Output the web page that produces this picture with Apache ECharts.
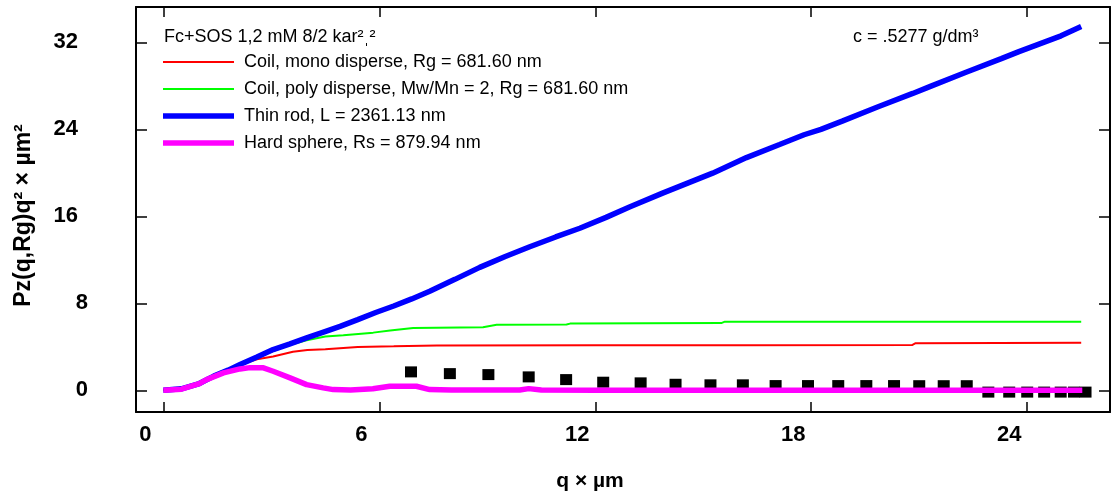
<!DOCTYPE html>
<html>
<head>
<meta charset="utf-8">
<script src="https://cdn.jsdelivr.net/npm/echarts@6/dist/echarts.min.js"></script>
<style>
  html, body { margin: 0; padding: 0; background: #ffffff; }
  #chart { width: 1116px; height: 497px; }
</style>
</head>
<body>
<div id="chart"></div>
<script>
// Tick values
const xTicks = [0, 6, 12, 18, 24];
const yTicks = [0, 8, 16, 24, 32];

// Series names
const nameMono = 'Coil, mono disperse, Rg = 681.60 nm';
const namePoly = 'Coil, poly disperse, Mw/Mn = 2, Rg = 681.60 nm';
const nameRod = 'Thin rod, L = 2361.13 nm';
const nameSphere = 'Hard sphere, Rs = 879.94 nm';

// Coil, mono disperse
const monoQ = [0, 0.5, 1.0, 1.4, 1.8, 2.2, 2.6, 3.05, 3.6, 4.0, 4.5, 5.4, 6.4, 7.6, 12.0, 16.0, 20.8, 20.9, 25.5];
const monoY = [0, 0.13, 0.62, 1.3, 1.85, 2.4, 2.85, 3.1, 3.55, 3.7, 3.78, 3.98, 4.04, 4.12, 4.14, 4.15, 4.16, 4.33, 4.36];

// Coil, poly disperse
const polyQ = [0, 0.5, 1.0, 1.4, 1.8, 2.2, 2.6, 3.05, 3.5, 3.98, 4.5, 5.0, 5.83, 6.3, 6.94, 8.88, 9.26, 11.2, 11.3, 15.5, 15.6, 25.5];
const polyY = [0, 0.13, 0.62, 1.3, 1.9, 2.55, 3.0, 3.6, 4.15, 4.6, 4.95, 5.05, 5.3, 5.5, 5.72, 5.8, 6.02, 6.05, 6.13, 6.18, 6.31, 6.31];

// Thin rod
const rodQ = [0, 0.5, 1.0, 1.4, 1.8, 2.13, 2.6, 3.05, 3.5, 3.98, 4.45, 4.91, 5.4, 5.9, 6.4, 6.9, 7.4, 8.1, 8.79, 9.5, 10.18, 10.9, 11.57, 12.3, 12.95, 13.87, 14.6, 15.26, 16.2, 17.12, 17.8, 18.27, 18.86, 19.84, 20.82, 21.31, 22.3, 23.28, 23.77, 24.94, 25.5];
const rodY = [0, 0.13, 0.62, 1.3, 1.85, 2.36, 3.05, 3.74, 4.25, 4.81, 5.35, 5.88, 6.5, 7.15, 7.75, 8.4, 9.1, 10.2, 11.3, 12.3, 13.2, 14.1, 14.9, 15.9, 16.85, 18.13, 19.1, 19.97, 21.4, 22.6, 23.5, 24.0, 24.75, 26.05, 27.3, 27.95, 29.25, 30.5, 31.15, 32.6, 33.45];

// Hard sphere
const sphereQ = [0, 0.5, 1.0, 1.2, 1.67, 2.13, 2.41, 2.78, 3.05, 3.52, 3.98, 4.44, 4.72, 5.2, 5.82, 6.29, 7.03, 7.4, 8.0, 9.9, 10.15, 10.5, 12.0, 25.53];
const sphereY = [0, 0.1, 0.6, 0.98, 1.6, 1.96, 2.08, 2.06, 1.75, 1.14, 0.52, 0.22, 0.06, 0.02, 0.13, 0.37, 0.37, 0.06, 0.02, 0.02, 0.15, 0.02, 0.0, 0.0];

// Measured points
const measQ = [6.88, 7.96, 9.03, 10.15, 11.19, 12.22, 13.26, 14.23, 15.20, 16.10, 17.01, 17.91, 18.75, 19.53, 20.30, 21.0, 21.68, 22.32, 22.92, 23.50, 24.0, 24.47, 24.93, 25.3, 25.62];
const measY = [1.69, 1.53, 1.44, 1.23, 0.98, 0.74, 0.68, 0.55, 0.50, 0.50, 0.43, 0.43, 0.43, 0.43, 0.43, 0.42, 0.42, 0.42, -0.17, -0.17, -0.17, -0.17, -0.17, -0.17, -0.17];

const pairs = (qs, ys) => qs.map((q, i) => [q, ys[i]]);

const FONT = '"Liberation Sans", Arial, Helvetica, sans-serif';
const frame = { show: true, onZero: false, lineStyle: { color: '#000', width: 2 } };
const tickIn = (len, vals) => ({ show: true, inside: true, length: len, customValues: vals, lineStyle: { color: '#000', width: 1.5 } });

// legend swatches: flat bars as thick as the matching line
const thinBar = 'path://M0,0H71V2H0Z';
const thickBar = 'path://M0,0H71V5.5H0Z';

const chart = echarts.init(document.getElementById('chart'), null, { renderer: 'canvas' });

chart.setOption({
  animation: false,
  backgroundColor: '#ffffff',
  textStyle: { fontFamily: FONT },
  grid: { left: 136, right: 6, top: 7, bottom: 85, containLabel: false },
  title: [
    {
      text: 'Fc+SOS 1,2 mM 8/2 kar²ˌ²',
      left: 164, top: 27, padding: 0,
      textStyle: { fontFamily: FONT, fontSize: 18, fontWeight: 'normal', color: '#000', lineHeight: 20 }
    },
    {
      text: 'c = .5277 g/dm³',
      left: 853, top: 27, padding: 0,
      textStyle: { fontFamily: FONT, fontSize: 18, fontWeight: 'normal', color: '#000', lineHeight: 20 }
    }
  ],
  legend: {
    data: [
      { name: nameMono, icon: thinBar },
      { name: namePoly, icon: thinBar },
      { name: nameRod, icon: thickBar },
      { name: nameSphere, icon: thickBar }
    ],
    orient: 'vertical',
    left: 163, top: 53, padding: 0,
    itemWidth: 71, itemHeight: 14, itemGap: 9,
    selectedMode: false,
    symbolKeepAspect: true,
    itemStyle: { borderWidth: 0 },
    textStyle: { fontFamily: FONT, fontSize: 18, color: '#000', lineHeight: 18, padding: [0, 0, 0, 5] }
  },
  xAxis: [
    {
      type: 'value', position: 'bottom', min: -0.76, max: 26.3,
      axisLine: frame, splitLine: { show: false },
      axisTick: tickIn(10, xTicks),
      axisLabel: {
        customValues: xTicks, margin: 12,
        fontFamily: FONT, fontSize: 22, fontWeight: 'bold', color: '#000',
        padding: [0, 36, 0, 0]
      },
      name: 'q × µm', nameLocation: 'middle', nameGap: 59,
      nameTextStyle: { fontFamily: FONT, fontSize: 21, fontWeight: 'bold', color: '#000', padding: [0, 66, 0, 0] }
    },
    {
      type: 'value', position: 'top', min: -0.76, max: 26.3,
      axisLine: frame, splitLine: { show: false },
      axisTick: tickIn(10, xTicks), axisLabel: { show: false }
    }
  ],
  yAxis: [
    {
      type: 'value', position: 'left', min: -2, max: 35.25,
      axisLine: frame, splitLine: { show: false },
      axisTick: tickIn(11, yTicks),
      axisLabel: {
        customValues: yTicks, margin: 48,
        formatter: v => (String(v).length > 1 ? '{w|' : '{n|') + v + '}',
        rich: {
          n: { fontFamily: FONT, fontSize: 22, fontWeight: 'bold', color: '#000' },
          w: { fontFamily: FONT, fontSize: 22, fontWeight: 'bold', color: '#000', padding: [0, 10, 0, 0] }
        }
      },
      name: 'Pz(q,Rg)q² × µm²', nameLocation: 'middle', nameGap: 101, nameRotate: 90,
      nameTextStyle: { fontFamily: FONT, fontSize: 23, fontWeight: 'bold', color: '#000', padding: [0, 12, 0, 0] }
    },
    {
      type: 'value', position: 'right', min: -2, max: 35.25,
      axisLine: frame, splitLine: { show: false },
      axisTick: tickIn(11, yTicks), axisLabel: { show: false }
    }
  ],
  series: [
    {
      name: nameMono, type: 'line', data: pairs(monoQ, monoY), z: 2,
      symbol: 'none', color: '#ff0000', lineStyle: { color: '#ff0000', width: 2 }
    },
    {
      name: namePoly, type: 'line', data: pairs(polyQ, polyY), z: 3,
      symbol: 'none', color: '#00ff00', lineStyle: { color: '#00ff00', width: 2 }
    },
    {
      name: nameRod, type: 'line', data: pairs(rodQ, rodY), z: 4,
      symbol: 'none', color: '#0000ff', lineStyle: { color: '#0000ff', width: 5.5 }
    },
    {
      name: 'measured', type: 'scatter', data: pairs(measQ, measY), z: 5,
      symbol: 'rect', symbolSize: [12, 11], itemStyle: { color: '#000', opacity: 1 }
    },
    {
      name: nameSphere, type: 'line', data: pairs(sphereQ, sphereY), z: 6,
      symbol: 'none', color: '#ff00ff', lineStyle: { color: '#ff00ff', width: 5.5 }
    }
  ]
});
</script>
</body>
</html>
